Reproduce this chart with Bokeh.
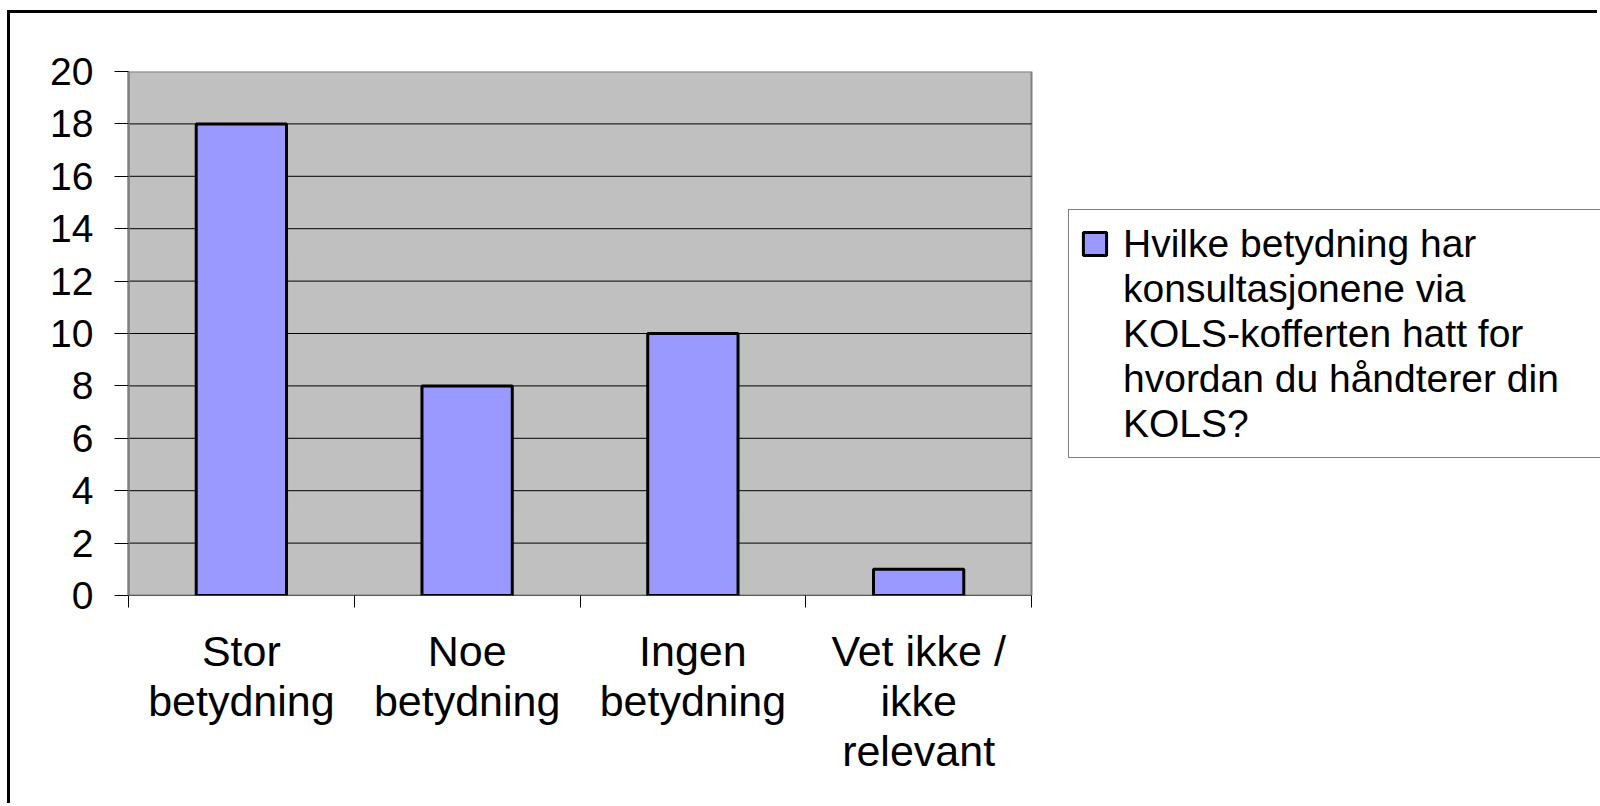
from bokeh.plotting import figure
from bokeh.models import Range1d, FixedTicker, Legend, LegendItem
from bokeh.embed import file_html
from bokeh.resources import INLINE

categories = ["Stor\nbetydning", "Noe\nbetydning", "Ingen\nbetydning", "Vet ikke /\nikke\nrelevant"]
values = [18, 8, 10, 1]
y_ticks = [0, 2, 4, 6, 8, 10, 12, 14, 16, 18, 20]
legend_lines = ["Hvilke betydning har", "konsultasjonene via", "KOLS-kofferten hatt for",
                "hvordan du håndterer din", "KOLS?"]

n = len(categories)
positions = [i + 0.5 for i in range(n)]
boundaries = list(range(n + 1))

FONT = "Liberation Sans"

# layout (pixels)
W, H = 1590, 793
LEFT, TOP, BOTTOM = 118, 58, 211
PLOT_AREA_W = 903                      # width of the grey plot area
FRAME_W = W - LEFT                     # frame runs to the right edge (legend lives there)
x_end = n * FRAME_W / PLOT_AREA_W

p = figure(width=W, height=H, output_backend="svg", toolbar_location=None,
           x_range=Range1d(0, x_end), y_range=Range1d(0, y_ticks[-1]),
           min_border_left=LEFT, min_border_right=0, min_border_top=TOP, min_border_bottom=BOTTOM)
p.styles = {"border-left": "3px solid black", "border-top": "3px solid black",
            "margin-left": "7px", "margin-top": "10px"}
p.background_fill_color = "white"
p.border_fill_color = "white"
p.outline_line_color = None
p.xgrid.visible = False
p.ygrid.visible = False

# grey plot area
p.quad(left=[0], right=[n], bottom=[0], top=[y_ticks[-1]], fill_color="#C0C0C0",
       line_color="#808080", line_width=2)
# horizontal gridlines
p.segment(x0=[0] * (len(y_ticks) - 1), x1=[n] * (len(y_ticks) - 1),
          y0=y_ticks[:-1], y1=y_ticks[:-1], line_color="black", line_width=1)

r = p.vbar(x=positions, top=values, width=0.4, fill_color="#9999FF",
           line_color="black", line_width=3)
blank = p.vbar(x=[], top=[], width=0.4, fill_alpha=0, line_alpha=0)

ya = p.yaxis[0]
ya.ticker = FixedTicker(ticks=y_ticks)
ya.axis_line_color = "#808080"
ya.axis_line_width = 2.5
ya.major_tick_line_color = "black"
ya.major_tick_in = 0
ya.major_tick_out = 14
ya.minor_tick_line_color = None
ya.major_label_standoff = 21
ya.major_label_text_font = FONT
ya.major_label_text_font_size = "39px"
ya.major_label_text_color = "black"

xa = p.xaxis[0]
xa.ticker = FixedTicker(ticks=positions, minor_ticks=boundaries)
xa.major_label_overrides = {pos: cat for pos, cat in zip(positions, categories)}
xa.axis_line_color = None
xa.major_tick_line_color = None
xa.major_tick_in = 0
xa.major_tick_out = 0
xa.minor_tick_line_color = "black"
xa.minor_tick_in = 0
xa.minor_tick_out = 12
xa.major_label_standoff = 19
xa.major_label_text_font = FONT
xa.major_label_text_font_size = "43px"
xa.major_label_text_color = "black"
xa.major_label_text_line_height = 1.043

items = [LegendItem(label=legend_lines[0], renderers=[r])]
items += [LegendItem(label=t, renderers=[blank]) for t in legend_lines[1:]]
legend = Legend(items=items, location=(940, 137))
legend.label_text_font = FONT
legend.label_text_font_size = "39px"
legend.label_text_line_height = 1.0
legend.label_text_color = "black"
legend.glyph_width = 29
legend.glyph_height = 29
legend.label_height = 45
legend.spacing = 0
legend.padding = 11
legend.margin = 0
legend.label_standoff = 14
legend.label_width = 600
legend.border_line_color = "black"
legend.border_line_width = 1.5
legend.background_fill_color = "white"
legend.background_fill_alpha = 1
p.add_layout(legend)

open("out.html", "w").write(file_html(p, INLINE))
